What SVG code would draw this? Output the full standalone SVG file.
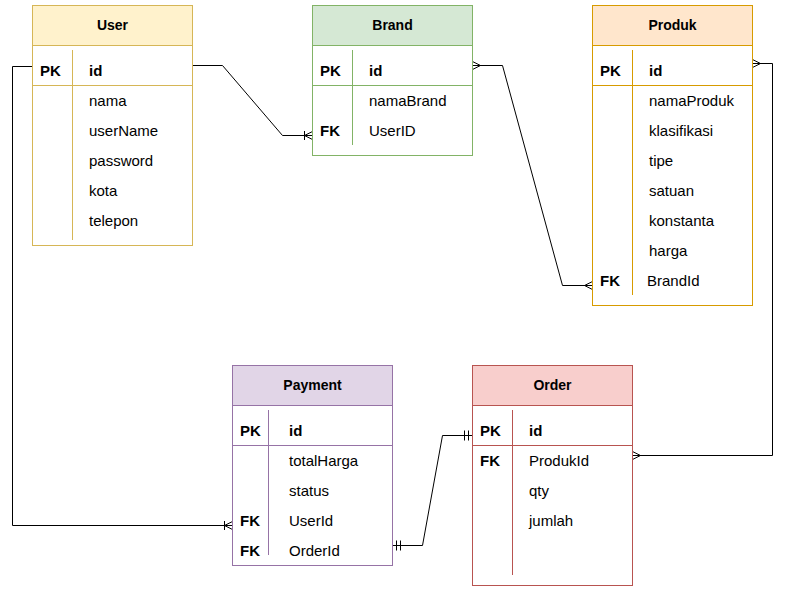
<svg xmlns="http://www.w3.org/2000/svg" width="788" height="592" viewBox="0 0 788 592">
<style>
text{font-family:"Liberation Sans",Arial,Helvetica,sans-serif;fill:#000;dominant-baseline:central}
.h{font-size:14px;font-weight:bold;text-anchor:middle}
.k{font-size:15px;font-weight:bold}
.f{font-size:15px}
.c{fill:none;stroke:#000;stroke-width:1}
.yl{stroke:#d6b656}.gr{stroke:#82b366}.or{stroke:#d79b00}.pu{stroke:#9673a6}.rd{stroke:#b85450}
</style>
<defs>
<marker id="many" markerUnits="userSpaceOnUse" markerWidth="20" markerHeight="20" viewBox="-10 -10 20 20" refX="0" refY="0" orient="auto-start-reverse" overflow="visible"><path d="M0,-4 L-8,0 L0,4" fill="none" stroke="#000"/></marker>
<marker id="oneMany" markerUnits="userSpaceOnUse" markerWidth="20" markerHeight="20" viewBox="-10 -10 20 20" refX="0" refY="0" orient="auto-start-reverse" overflow="visible"><path d="M0,-4 L-8,0 L0,4 M-8,-4.5 V4.5" fill="none" stroke="#000"/></marker>
<marker id="mandOne" markerUnits="userSpaceOnUse" markerWidth="20" markerHeight="20" viewBox="-10 -10 20 20" refX="0" refY="0" orient="auto-start-reverse" overflow="visible"><path d="M-4,-5 V5 M-8,-5 V5" fill="none" stroke="#000"/></marker>
</defs>
<g id="connectors">
<path class="c" d="M192.5,65.5 H222.5 L282.5,135.5 H312.5" marker-end="url(#oneMany)"/>
<path class="c" d="M32.5,66.5 H12.5 V525.5 H232.5" marker-end="url(#oneMany)"/>
<path class="c" d="M472.5,65.5 H502.5 L562.5,285.5 H592.5" marker-start="url(#many)" marker-end="url(#many)"/>
<path class="c" d="M752.5,63.5 H772.5 V455.5 H632.5" marker-start="url(#many)" marker-end="url(#many)"/>
<path class="c" d="M392.5,545.5 H422.5 L442.5,435.5 H472.5" marker-start="url(#mandOne)" marker-end="url(#mandOne)"/>
</g>
<g id="User">
<rect x="32.5" y="5.5" width="160" height="240" fill="#fff" class="yl"/>
<rect x="32.5" y="5.5" width="160" height="40" fill="#fff2cc" class="yl"/>
<line x1="72.5" y1="50" x2="72.5" y2="240" class="yl"/>
<line x1="32.5" y1="85.5" x2="192.5" y2="85.5" class="yl"/>
<text class="h" x="112.5" y="25">User</text>
<text class="k" x="40" y="70">PK</text><text class="k" x="89" y="70">id</text>
<text class="f" x="89" y="100">nama</text>
<text class="f" x="89" y="130">userName</text>
<text class="f" x="89" y="160">password</text>
<text class="f" x="89" y="190">kota</text>
<text class="f" x="89" y="220">telepon</text>
</g>
<g id="Brand">
<rect x="312.5" y="5.5" width="160" height="150" fill="#fff" class="gr"/>
<rect x="312.5" y="5.5" width="160" height="40" fill="#d5e8d4" class="gr"/>
<line x1="352.5" y1="50" x2="352.5" y2="145" class="gr"/>
<line x1="312.5" y1="85.5" x2="472.5" y2="85.5" class="gr"/>
<text class="h" x="392.5" y="25">Brand</text>
<text class="k" x="320" y="70">PK</text><text class="k" x="369" y="70">id</text>
<text class="f" x="369" y="100">namaBrand</text>
<text class="k" x="320" y="130">FK</text><text class="f" x="369" y="130">UserID</text>
</g>
<g id="Produk">
<rect x="592.5" y="5.5" width="160" height="300" fill="#fff" class="or"/>
<rect x="592.5" y="5.5" width="160" height="40" fill="#ffe6cc" class="or"/>
<line x1="632.5" y1="50" x2="632.5" y2="295" class="or"/>
<line x1="592.5" y1="85.5" x2="752.5" y2="85.5" class="or"/>
<text class="h" x="672.5" y="25">Produk</text>
<text class="k" x="600" y="70">PK</text><text class="k" x="649" y="70">id</text>
<text class="f" x="649" y="100">namaProduk</text>
<text class="f" x="649" y="130">klasifikasi</text>
<text class="f" x="649" y="160">tipe</text>
<text class="f" x="649" y="190">satuan</text>
<text class="f" x="649" y="220">konstanta</text>
<text class="f" x="649" y="250">harga</text>
<text class="k" x="600" y="280">FK</text><text class="f" x="647" y="280">BrandId</text>
</g>
<g id="Payment">
<rect x="232.5" y="365.5" width="160" height="200" fill="#fff" class="pu"/>
<rect x="232.5" y="365.5" width="160" height="40" fill="#e1d5e7" class="pu"/>
<line x1="268.5" y1="410" x2="268.5" y2="555" class="pu"/>
<line x1="232.5" y1="445.5" x2="392.5" y2="445.5" class="pu"/>
<text class="h" x="312.5" y="385">Payment</text>
<text class="k" x="240" y="430">PK</text><text class="k" x="289" y="430">id</text>
<text class="f" x="289" y="460">totalHarga</text>
<text class="f" x="289" y="490">status</text>
<text class="k" x="240" y="520">FK</text><text class="f" x="289" y="520">UserId</text>
<text class="k" x="240" y="550">FK</text><text class="f" x="289" y="550">OrderId</text>
</g>
<g id="Order">
<rect x="472.5" y="365.5" width="160" height="220" fill="#fff" class="rd"/>
<rect x="472.5" y="365.5" width="160" height="40" fill="#f8cecc" class="rd"/>
<line x1="512.5" y1="410" x2="512.5" y2="575" class="rd"/>
<line x1="472.5" y1="445.5" x2="632.5" y2="445.5" class="rd"/>
<text class="h" x="552.5" y="385">Order</text>
<text class="k" x="480" y="430">PK</text><text class="k" x="529" y="430">id</text>
<text class="k" x="480" y="460">FK</text><text class="f" x="529" y="460">ProdukId</text>
<text class="f" x="529" y="490">qty</text>
<text class="f" x="529" y="520">jumlah</text>
</g>
</svg>
